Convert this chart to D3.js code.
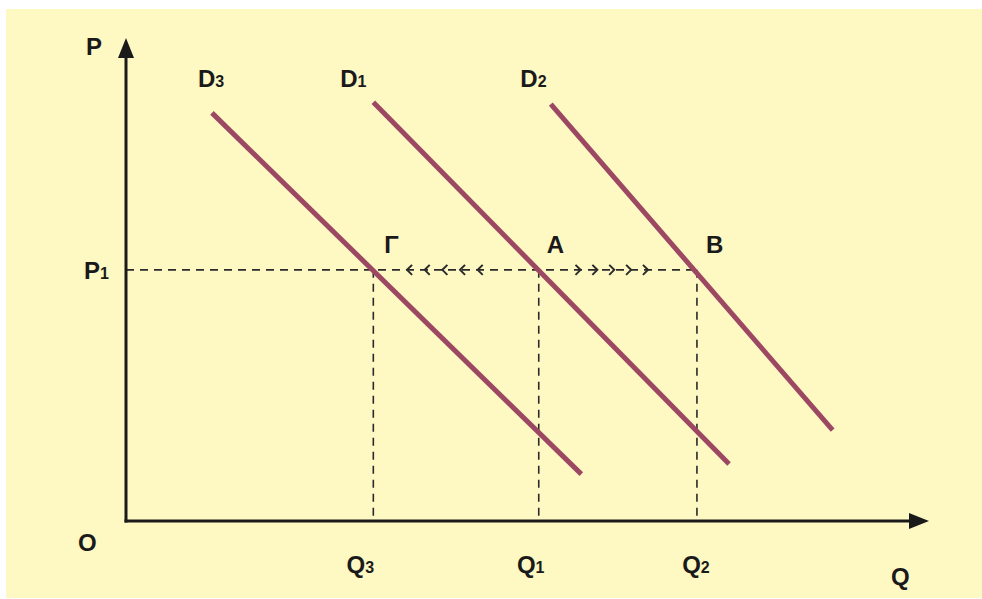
<!DOCTYPE html>
<html>
<head>
<meta charset="utf-8">
<script src="https://cdn.jsdelivr.net/npm/d3@7"></script>
<style>
  body { margin: 0; background: #fff; }
  svg { display: block; }
  text { font-family: "Liberation Sans", Arial, sans-serif; font-weight: bold; fill: #1a1a1a; }
</style>
</head>
<body>
<svg id="chart" width="982" height="599"></svg>
<script>
// demand curves: [q start, p start, q end, p end]
const curveNames = ['D3', 'D1', 'D2'];
const curveStart = [[1.07, 8.45], [3.08, 8.67], [5.29, 8.63]];
const curveEnd = [[5.67, 0.97], [7.51, 1.18], [8.80, 1.88]];
const curveLabelQ = [1.07, 2.83, 5.06];

const priceLevel = 5.2;
const qNames = ['Q3', 'Q1', 'Q2'];
const qValues = [3.08, 5.14, 7.11];
const pointNames = ['Γ', 'A', 'B'];

// little arrowheads along P1 line
const leftChevrons = [3.50, 3.72, 3.94, 4.16, 4.38];
const rightChevrons = [5.66, 5.87, 6.08, 6.29, 6.50];

const width = 982, height = 599;
const svg = d3.select('#chart');

const x = d3.scaleLinear().domain([0, 10]).range([126, 929]);
const y = d3.scaleLinear().domain([0, 10]).range([521, 38]);

svg.append('rect')
  .attr('x', 6).attr('y', 9)
  .attr('width', width - 6).attr('height', height - 10)
  .attr('fill', '#fef8c3');

const dash = '8,6';
const dashCol = '#2a2a2a';

// P1 dashed line
svg.append('line')
  .attr('x1', x(0)).attr('x2', x(qValues[2]))
  .attr('y1', y(priceLevel)).attr('y2', y(priceLevel))
  .attr('stroke', dashCol).attr('stroke-width', 1.6)
  .attr('stroke-dasharray', dash);

// vertical dashed lines
svg.selectAll('.vdash')
  .data(qValues)
  .enter()
  .append('line')
  .attr('x1', d => x(d)).attr('x2', d => x(d))
  .attr('y1', y(priceLevel)).attr('y2', y(0))
  .attr('stroke', dashCol).attr('stroke-width', 1.6)
  .attr('stroke-dasharray', dash);

// chevrons
const cy = y(priceLevel);
svg.selectAll('.lchev')
  .data(leftChevrons)
  .enter()
  .append('path')
  .attr('d', d => `M${x(d) + 5},${cy - 5} L${x(d)},${cy} L${x(d) + 5},${cy + 5}`)
  .attr('fill', 'none').attr('stroke', dashCol).attr('stroke-width', 2);

svg.selectAll('.rchev')
  .data(rightChevrons)
  .enter()
  .append('path')
  .attr('d', d => `M${x(d) - 5},${cy - 5} L${x(d)},${cy} L${x(d) - 5},${cy + 5}`)
  .attr('fill', 'none').attr('stroke', dashCol).attr('stroke-width', 2);

// demand curves
svg.selectAll('.curve')
  .data(curveNames.map((n, i) => ({ n, s: curveStart[i], e: curveEnd[i] })))
  .enter()
  .append('line')
  .attr('x1', d => x(d.s[0])).attr('y1', d => y(d.s[1]))
  .attr('x2', d => x(d.e[0])).attr('y2', d => y(d.e[1]))
  .attr('stroke', '#9c4862')
  .attr('stroke-width', 5);

// axes
const axisCol = '#1a1a1a';
svg.append('line')
  .attr('x1', x(0)).attr('x2', x(0))
  .attr('y1', y(0) + 1.5).attr('y2', y(10) + 18)
  .attr('stroke', axisCol).attr('stroke-width', 3);
svg.append('path')
  .attr('d', `M${x(0)},${y(10)} L${x(0) - 8},${y(10) + 20} L${x(0) + 8},${y(10) + 20} Z`)
  .attr('fill', axisCol);

svg.append('line')
  .attr('x1', x(0) - 1.5).attr('x2', x(10) - 18)
  .attr('y1', y(0)).attr('y2', y(0))
  .attr('stroke', axisCol).attr('stroke-width', 3);
svg.append('path')
  .attr('d', `M${x(10)},${y(0)} L${x(10) - 20},${y(0) - 8} L${x(10) - 20},${y(0) + 8} Z`)
  .attr('fill', axisCol);

// label with subscript
function label(txt, sub, px, py, anchor) {
  const t = svg.append('text')
    .attr('x', px).attr('y', py)
    .attr('font-size', 24)
    .attr('text-anchor', anchor || 'start');
  t.append('tspan').text(txt);
  if (sub) t.append('tspan').attr('font-size', 16).text(sub);
  return t;
}

label('P', null, 86, 55);
label('O', null, 78, 551);
label('Q', null, 891, 585);
label('P', '1', 84, 279);

const curveLabelDx = [-14, -13, -12];
curveNames.forEach((n, i) => {
  label(n[0], n.slice(1), x(curveLabelQ[i]) + curveLabelDx[i], 87);
});

const qLabelDx = [-13, -8, -1];
qNames.forEach((n, i) => {
  label(n[0], n.slice(1), x(qValues[i]) + qLabelDx[i], 573, 'middle');
});

const pointOffsets = [11, 8, 9];
pointNames.forEach((n, i) => {
  label(n, null, x(qValues[i]) + pointOffsets[i], y(priceLevel) - 17);
});
</script>
</body>
</html>
